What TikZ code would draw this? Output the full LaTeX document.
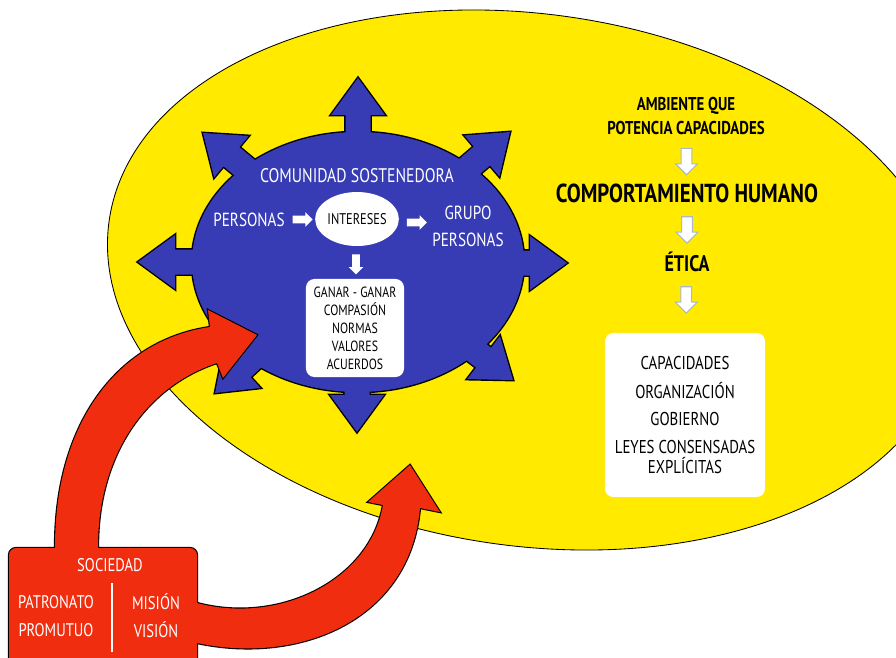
\documentclass[tikz,border=0pt]{standalone}
\usepackage{fontspec}
\setmainfont{PT Sans}[FakeStretch=0.8]
\usetikzlibrary{calc,shapes.arrows,shapes.geometric}
\definecolor{amarillo}{RGB}{255,234,0}
\definecolor{azul}{RGB}{55,60,180}
\definecolor{rojo}{RGB}{240,45,15}
\definecolor{grisazul}{RGB}{170,185,205}
% estrella azul: elipse con ocho flechas
\def\estrella#1{%
	\foreach \tx/\ty/\ang in {358/78/90, 510/132/40.5, 567/263/0, 513/380/-37.3, 357/432/-90, 215/393/-137.5, 138/262/180, 203/133/140.2}{
		\path[#1, shift={(\tx,\ty)}, rotate=\ang] (0,0) -- (-37,27) -- (-37,12.5) -- (-95,12.5) -- (-95,-12.5) -- (-37,-12.5) -- (-37,-27) -- cycle;
	}
	\path[#1] (358,262) ellipse [x radius=166, y radius=130];
}
% flechas rojas y caja de la sociedad
\def\rojas#1{%
	\path[#1] (55,560) -- (55,547) .. controls (55,420) and (120,340) .. (210,327) -- (208,310) -- (257,335) -- (223,378) -- (217,363) .. controls (150,385) and (98,450) .. (98,547) -- (98,560) -- cycle;
	\path[#1] (185,603) -- (197,603) .. controls (280,625) and (370,580) .. (383,505) -- (368,502) -- (410,465) -- (440,512) -- (420,508) .. controls (410,620) and (300,665) .. (197,643) -- (185,643) -- cycle;
	\path[#1, rounded corners=5pt] (9,548) rectangle (197,672);
}
\tikzset{
	blanco/.style={text=white, inner sep=1pt, align=center},
	negro/.style={text=black, inner sep=1pt, align=center},
	flechab/.style={single arrow, fill=white, inner sep=0pt, text height=0.09cm, text depth=0.09cm, minimum height=0.5cm, single arrow head extend=0.085cm},
	flechag/.style={single arrow, fill=white, draw=grisazul, line width=0.8pt, inner sep=0pt, rotate=-90, text height=0.12cm, text depth=0.12cm, minimum height=0.66cm, single arrow head extend=0.14cm},
	caja/.style={fill=white, rounded corners=6pt, inner sep=2pt, align=center}
}

\begin{document}
\begin{tikzpicture}[x=0.025cm, y=-0.025cm]
	%%%%% START %%%%%
	\clip (0,0) rectangle (896,658);
	
	% fondo amarillo
	\draw[fill=amarillo, line width=0.6pt, rotate around={-8:(530,280)}] (530,280) ellipse [x radius=425, y radius=266];
	
	% comunidad
	\estrella{draw=black, line width=2pt, fill=azul}
	\estrella{fill=azul}
	
	\node[blanco, font=\fontsize{14}{16}\selectfont] (comunidad) at (357,176) {COMUNIDAD SOSTENEDORA};
	\node[blanco, font=\fontsize{13.5}{15}\selectfont] (personas) at (249,220) {PERSONAS};
	\node[ellipse, fill=white, inner sep=0pt, minimum width=1.85cm, minimum height=1.35cm, font=\fontsize{11}{13}\selectfont] (intereses) at (357,219) {INTERESES};
	\node[blanco, font=\fontsize{13.5}{19}\selectfont] (grupo) at (468,226) {GRUPO\\PERSONAS};
	\node[caja, minimum width=2.45cm, minimum height=2.45cm, font=\fontsize{10.5}{12.8}\selectfont] (valores) at (355,328) {GANAR - GANAR\\COMPASIÓN\\NORMAS\\VALORES\\ACUERDOS};
	
	\node[flechab] at ($(personas.east)!0.5!(intereses.west)$) {};
	\node[flechab] at ($(intereses.east)!0.5!(grupo.west)$) {};
	\node[flechab, rotate=-90] at ($(intereses.south)!0.5!(valores.north)$) {};
	
	% columna derecha
	\node[negro, font=\bfseries\fontsize{13.2}{16.4}\selectfont] (ambiente) at (686,116) {AMBIENTE QUE\\POTENCIA CAPACIDADES};
	\node[negro, font=\bfseries\fontsize{18.5}{20}\selectfont] (comportamiento) at (687,193) {COMPORTAMIENTO HUMANO};
	\node[negro, font=\bfseries\fontsize{16}{18}\selectfont] (etica) at (687,262) {ÉTICA};
	\node[caja, minimum width=4cm, minimum height=4.1cm, font=\fontsize{13.2}{14.2}\selectfont] (capacidades) at (685,415) {CAPACIDADES\\[6pt]ORGANIZACIÓN\\[5pt]GOBIERNO\\[6pt]LEYES CONSENSADAS\\EXPLÍCITAS};
	
	\node[flechag] at ($(ambiente.south)!0.5!(comportamiento.north)$) {};
	\node[flechag] at ($(comportamiento.south)!0.5!(etica.north)$) {};
	\node[flechag] at ($(etica.south)!0.4!(capacidades.north)$) {};
	
	% sociedad
	\rojas{draw=black, line width=1.6pt, fill=rojo}
	\rojas{fill=rojo}
	
	\node[blanco, font=\fontsize{13}{15}\selectfont] (sociedad) at (110,565) {SOCIEDAD};
	\node[blanco, font=\fontsize{13}{20}\selectfont] (patronato) at (56,616) {PATRONATO\\PROMUTUO};
	\node[blanco, font=\fontsize{13}{20}\selectfont] (mision) at (156,616) {MISIÓN\\VISIÓN};
	\draw[white, line width=0.8pt] (112,583) -- (112,652);
	
	%%%%% END %%%%%
\end{tikzpicture}
\end{document}
